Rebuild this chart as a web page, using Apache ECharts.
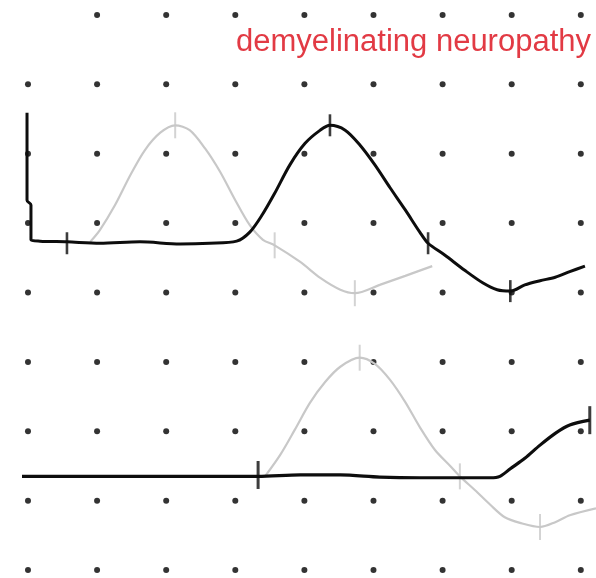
<!DOCTYPE html>
<html>
<head>
<meta charset="utf-8">
<script src="https://cdn.jsdelivr.net/npm/echarts@6/dist/echarts.min.js"></script>
<style>
  html, body { margin: 0; padding: 0; background: #fff; }
  #chart { width: 596px; height: 578px; }
</style>
</head>
<body>
<div id="chart"></div>
<script>
// grid divisions (x: time, y: amplitude), dots sit on integer divisions
const gridCols = [0, 1, 2, 3, 4, 5, 6, 7, 8];
const gridRows = [0, 1, 2, 3, 4, 5, 6, 7, 8];

// upper recording, black trace (with stimulus artefact at the start)
const upperBlack = [
  [-0.014, 6.59], [-0.014, 5.33], [0.043, 5.26], [0.043, 4.76],
  [0.174, 4.74], [0.564, 4.73], [1.04, 4.71], [1.62, 4.73], [2.2, 4.7],
  [2.63, 4.71], [3.02, 4.74], [3.21, 4.87], [3.39, 5.12], [3.57, 5.43],
  [3.79, 5.84], [4.01, 6.15], [4.23, 6.34], [4.37, 6.41], [4.59, 6.34],
  [4.8, 6.13], [5.02, 5.84], [5.24, 5.51], [5.46, 5.19], [5.67, 4.87],
  [5.79, 4.71], [6.03, 4.54], [6.32, 4.32], [6.58, 4.14], [6.79, 4.04],
  [6.98, 4.02], [7.19, 4.11], [7.41, 4.17], [7.63, 4.22], [7.84, 4.3],
  [8.06, 4.38]
];
const upperBlackMarks = [[0.564, 4.71], [4.37, 6.41], [5.79, 4.71], [6.98, 4.02]];

// upper recording, grey (normal) trace
const upperGray = [
  [0.9, 4.73], [1.04, 4.9], [1.26, 5.26], [1.48, 5.69], [1.69, 6.05],
  [1.91, 6.3], [2.13, 6.41], [2.34, 6.34], [2.56, 6.08], [2.78, 5.74],
  [3.0, 5.33], [3.21, 4.97], [3.4, 4.76], [3.57, 4.68], [3.94, 4.44],
  [4.23, 4.21], [4.52, 4.04], [4.73, 3.99], [5.09, 4.11], [5.46, 4.24],
  [5.85, 4.38]
];
const upperGrayMarks = [[2.13, 6.41], [3.57, 4.68], [4.73, 3.99]];

// lower recording, black trace
const lowerBlack = [
  [-0.087, 1.35], [1.04, 1.35], [2.49, 1.35], [3.33, 1.35], [3.94, 1.37],
  [4.52, 1.37], [5.09, 1.34], [5.67, 1.33], [6.69, 1.33], [6.83, 1.35],
  [6.98, 1.46], [7.19, 1.61], [7.41, 1.8], [7.63, 1.97], [7.84, 2.09],
  [8.13, 2.16]
];
const lowerBlackMarks = [[3.33, 1.37], [8.13, 2.16]];

// lower recording, grey trace
const lowerGray = [
  [3.43, 1.35], [3.65, 1.66], [3.86, 2.02], [4.08, 2.41], [4.3, 2.71],
  [4.52, 2.93], [4.8, 3.06], [5.02, 2.97], [5.24, 2.74], [5.46, 2.42],
  [5.67, 2.06], [5.89, 1.73], [6.11, 1.5], [6.25, 1.35], [6.47, 1.15],
  [6.69, 0.94], [6.9, 0.76], [7.12, 0.68], [7.41, 0.62], [7.63, 0.69],
  [7.84, 0.79], [8.22, 0.89]
];
const lowerGrayMarks = [[4.8, 3.06], [6.25, 1.35], [7.41, 0.62]];

const titleText = "demyelinating neuropathy";

const chart = echarts.init(document.getElementById("chart"));

// dots at every grid crossing (top-left one is not printed)
const dots = [];
gridRows.forEach(r => {
  gridCols.forEach(c => {
    if (!(c === 0 && r === 8)) dots.push([c, r]);
  });
});

const BLACK = "#0d0d0d";
const GREY = "#c8c8c8";

function trace(data, color, width, z) {
  return {
    type: "line",
    data: data,
    showSymbol: false,
    smooth: 0.3,
    clip: false,
    silent: true,
    z: z,
    lineStyle: { color: color, width: width }
  };
}

function marks(data, color, size, z) {
  return {
    type: "scatter",
    data: data,
    symbol: "rect",
    symbolSize: size,
    clip: false,
    silent: true,
    z: z,
    itemStyle: { color: color }
  };
}

chart.setOption({
  animation: false,
  backgroundColor: "#fff",
  title: {
    text: titleText,
    left: 236,
    top: 27,
    padding: 0,
    textStyle: {
      fontFamily: "Liberation Sans",
      fontWeight: "normal",
      fontSize: 31,
      color: "#e23a44"
    }
  },
  grid: { left: 0, right: 0, top: 0, bottom: 0 },
  xAxis: { type: "value", min: -0.405, max: 8.22, show: false },
  yAxis: { type: "value", min: -0.115, max: 8.216, show: false },
  series: [
    {
      type: "scatter",
      data: dots,
      symbolSize: 6,
      silent: true,
      z: 1,
      itemStyle: { color: "#000" }
    },
    trace(upperGray, GREY, 2.2, 2),
    marks(upperGrayMarks, GREY, [2, 26], 2),
    trace(lowerGray, GREY, 2.2, 2),
    marks(lowerGrayMarks, GREY, [2, 26], 2),
    trace(upperBlack, BLACK, 3, 3),
    marks(upperBlackMarks, BLACK, [2.6, 22], 3),
    trace(lowerBlack, BLACK, 3.2, 3),
    marks(lowerBlackMarks, BLACK, [3, 28], 3)
  ]
});
</script>
</body>
</html>
